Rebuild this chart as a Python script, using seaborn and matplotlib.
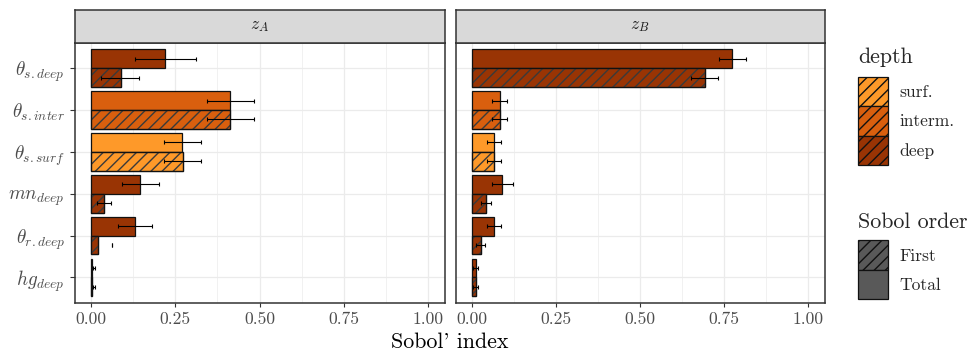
import numpy as np
import pandas as pd
import matplotlib
matplotlib.use("Agg")
import matplotlib.pyplot as plt
from matplotlib.patches import Rectangle, Patch
from matplotlib.ticker import FixedLocator
import seaborn as sns

# ---- data -------------------------------------------------------------
params = ["ts_deep", "ts_inter", "ts_surf", "mn_deep", "tr_deep", "hg_deep"]
param_labels = [r"$\theta_{s.deep}$", r"$\theta_{s.inter}$", r"$\theta_{s.surf}$",
                r"$mn_{deep}$", r"$\theta_{r.deep}$", r"$hg_{deep}$"]
param_depth = ["deep", "interm.", "surf.", "deep", "deep", "deep"]

outputs = ["zA", "zB"]
output_labels = [r"$z_A$", r"$z_B$"]

# Sobol' indices (value, lower, upper) per output and order
zA_total = [0.220, 0.412, 0.271, 0.145, 0.130, 0.002]
zA_total_lo = [0.130, 0.343, 0.215, 0.091, 0.080, 0.004]
zA_total_hi = [0.310, 0.485, 0.327, 0.200, 0.180, 0.010]
zA_first = [0.087, 0.413, 0.272, 0.038, 0.019, 0.002]
zA_first_lo = [0.028, 0.343, 0.215, 0.016, 0.061, 0.004]
zA_first_hi = [0.142, 0.485, 0.327, 0.058, 0.061, 0.010]

zB_total = [0.775, 0.082, 0.065, 0.090, 0.066, 0.010]
zB_total_lo = [0.735, 0.060, 0.044, 0.060, 0.044, 0.002]
zB_total_hi = [0.815, 0.105, 0.085, 0.120, 0.087, 0.016]
zB_first = [0.693, 0.082, 0.065, 0.042, 0.025, 0.010]
zB_first_lo = [0.653, 0.060, 0.044, 0.026, 0.012, 0.002]
zB_first_hi = [0.733, 0.105, 0.085, 0.057, 0.039, 0.016]

orders = ["Total", "First"]
depth_levels = ["surf.", "interm.", "deep"]
depth_colors = {"surf.": "#FE9929", "interm.": "#D95F0E", "deep": "#993404"}
order_gray = "#595959"

x_ticks = [0.0, 0.25, 0.5, 0.75, 1.0]
x_tick_labels = ["0.00", "0.25", "0.50", "0.75", "1.00"]
x_minor = [0.125, 0.375, 0.625, 0.875]

rows = []
tables = {
    "zA": {"Total": (zA_total, zA_total_lo, zA_total_hi),
           "First": (zA_first, zA_first_lo, zA_first_hi)},
    "zB": {"Total": (zB_total, zB_total_lo, zB_total_hi),
           "First": (zB_first, zB_first_lo, zB_first_hi)},
}
for out in outputs:
    for order in orders:
        v, lo, hi = tables[out][order]
        for i, p in enumerate(params):
            rows.append(dict(output=out, param=p, order=order, value=v[i],
                             lo=lo[i], hi=hi[i], depth=param_depth[i]))
df = pd.DataFrame(rows)

# ---- style ------------------------------------------------------------
sns.set_style("white")
plt.rcParams["font.family"] = "serif"
plt.rcParams["font.serif"] = ["cmr10"]
plt.rcParams["mathtext.fontset"] = "cm"
plt.rcParams["axes.formatter.use_mathtext"] = True
plt.rcParams["hatch.linewidth"] = 1.0

TICK_FS = 12.6
YLAB_FS = 13.8
TITLE_FS = 15.8
HATCH = "///"
HATCH_COLOR = "#3a3a3a"
EDGE = "#111111"

W, H = 972, 351
fig = plt.figure(figsize=(W / 100, H / 100), dpi=100)


def fx(px):
    return px / W


def fy(px):
    return 1 - px / H


panel_top, panel_bot = 43.0, 302.5
strip_top = 10.0
panels_x = [(74.5, 444.5), (455.5, 824.5)]


def hatch_patch(p, color):
    """Give a patch a diagonal stripe in a gray distinct from its outline."""
    p.set_hatch(HATCH)
    if hasattr(p, "set_hatchcolor"):
        p.set_hatchcolor(color)
        return None
    return color


for k, out in enumerate(outputs):
    x0, x1 = panels_x[k]
    ax = fig.add_axes([fx(x0), fy(panel_bot), fx(x1 - x0), (panel_bot - panel_top) / H])
    sub = df[df["output"] == out]
    sns.barplot(data=sub, y="param", x="value", hue="order", hue_order=orders,
                order=params, orient="h", width=0.9, errorbar=None, legend=False,
                edgecolor=EDGE, linewidth=0.9, ax=ax, zorder=2)

    outlines = []
    for p in ax.patches:
        cy = p.get_y() + p.get_height() / 2
        idx = int(round(cy))
        is_first = cy > idx
        p.set_facecolor(depth_colors[param_depth[idx]])
        p.set_edgecolor(EDGE)
        if is_first:
            fallback = hatch_patch(p, HATCH_COLOR)
            if fallback is not None:
                p.set_edgecolor(fallback)
                outlines.append(Rectangle((p.get_x(), p.get_y()), p.get_width(),
                                          p.get_height(), fill=False, edgecolor=EDGE,
                                          linewidth=0.9, zorder=2.5))
    for r in outlines:
        ax.add_patch(r)

    # confidence intervals
    for j, order in enumerate(orders):
        s = sub[sub["order"] == order].set_index("param").loc[params]
        offset = -0.225 if order == "Total" else 0.225
        ypos = np.arange(len(params)) + offset
        centre = (s["lo"].values + s["hi"].values) / 2
        ax.errorbar(centre, ypos,
                    xerr=[centre - s["lo"].values, s["hi"].values - centre],
                    fmt="none", ecolor="black", elinewidth=0.8, capsize=1.6,
                    capthick=0.8, zorder=3)

    ax.set_xlim(-0.05, 1.05)
    ax.set_ylim(len(params) - 1 + 0.6, -0.6)
    ax.set_xlabel("")
    ax.set_ylabel("")
    ax.set_facecolor("white")
    ax.xaxis.set_major_locator(FixedLocator(x_ticks))
    ax.xaxis.set_minor_locator(FixedLocator(x_minor))
    ax.set_xticklabels(x_tick_labels)
    ax.grid(True, which="major", color="#EBEBEB", linewidth=0.9, zorder=0)
    ax.grid(True, which="minor", axis="x", color="#EBEBEB", linewidth=0.5, zorder=0)
    ax.set_axisbelow(True)
    ax.tick_params(axis="x", which="major", length=3, width=0.8, color="#333333",
                   pad=3.5, labelsize=TICK_FS, labelcolor="#4D4D4D", bottom=True)
    ax.tick_params(axis="x", which="minor", length=0)
    if k == 0:
        ax.set_yticks(range(len(params)))
        ax.set_yticklabels(param_labels)
        ax.tick_params(axis="y", length=3.5, width=0.8, color="#333333", pad=3.5,
                       labelsize=YLAB_FS, labelcolor="#4D4D4D", left=True)
    else:
        ax.set_yticks(range(len(params)))
        ax.tick_params(axis="y", length=0, labelleft=False)
    for sp in ax.spines.values():
        sp.set_visible(True)
        sp.set_color("#333333")
        sp.set_linewidth(1.1)

    # facet strip
    sax = fig.add_axes([fx(x0), fy(panel_top), fx(x1 - x0), (panel_top - strip_top) / H])
    sax.set_facecolor("#D9D9D9")
    sax.set_xticks([])
    sax.set_yticks([])
    for sp in sax.spines.values():
        sp.set_color("#333333")
        sp.set_linewidth(1.1)
    sax.text(0.5, 0.5, output_labels[k], ha="center", va="center",
             fontsize=TICK_FS, color="#1A1A1A", transform=sax.transAxes)

fig.text(fx(449.5), fy(348.5), "Sobol' index", ha="center", va="baseline",
         fontsize=TITLE_FS, color="black")

# ---- legends ----------------------------------------------------------
key_w, key_h = 30.0, 29.5
fs_px = TICK_FS * 100 / 72
# a legend patch loses 0.35*fs*(hh - 0.7) of its box height to the descent
key_hh = (key_h / fs_px - 0.245) / 0.65


def make_handle(face, hatched):
    h = Patch(facecolor=face, edgecolor=EDGE, linewidth=0.9)
    if hatched:
        h.set_hatch(HATCH)
        if hasattr(h, "set_hatchcolor"):
            h.set_hatchcolor(HATCH_COLOR)
    return h


depth_handles = [make_handle(depth_colors[d], True) for d in depth_levels]
order_handles = [make_handle(order_gray, True), make_handle(order_gray, False)]

legend_kw = dict(frameon=False, fontsize=TICK_FS, loc="upper left",
                 borderpad=0, borderaxespad=0, labelspacing=0,
                 handlelength=key_w / fs_px, handleheight=key_hh,
                 handletextpad=11 / fs_px)

fig.text(fx(858.3), fy(63), "depth", ha="left", va="baseline", fontsize=TITLE_FS)
fig.legend(depth_handles, depth_levels, bbox_to_anchor=(fx(858.3), fy(76.7)), **legend_kw)

fig.text(fx(858.3), fy(227.7), "Sobol order", ha="left", va="baseline", fontsize=TITLE_FS)
fig.legend(order_handles, ["First", "Total"], bbox_to_anchor=(fx(858.3), fy(240.3)), **legend_kw)

fig.savefig("out.png", dpi=100)
